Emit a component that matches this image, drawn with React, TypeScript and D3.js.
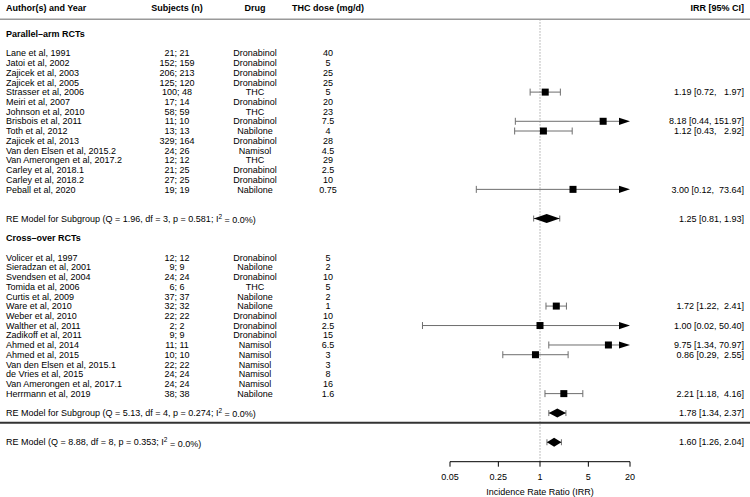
import React from "react";
import * as d3 from "d3";

// ---------- data ----------
const parallelStudies = [
  "Lane et al, 1991", "Jatoi et al, 2002", "Zajicek et al, 2003", "Zajicek et al, 2005",
  "Strasser et al, 2006", "Meiri et al, 2007", "Johnson et al, 2010", "Brisbois et al, 2011",
  "Toth et al, 2012", "Zajicek et al, 2013", "Van den Elsen et al, 2015.2",
  "Van Amerongen et al, 2017.2", "Carley et al, 2018.1", "Carley et al, 2018.2", "Peball et al, 2020",
];
const parallelSubjects = [
  "21; 21", "152; 159", "206; 213", "125; 120", "100; 48", "17; 14", "58; 59", "11; 10",
  "13; 13", "329; 164", "24; 26", "12; 12", "21; 25", "27; 25", "19; 19",
];
const parallelDrug = [
  "Dronabinol", "Dronabinol", "Dronabinol", "Dronabinol", "THC", "Dronabinol", "THC",
  "Dronabinol", "Nabilone", "Dronabinol", "Namisol", "THC", "Dronabinol", "Dronabinol", "Nabilone",
];
const parallelDose = ["40", "5", "25", "25", "5", "20", "23", "7.5", "4", "28", "4.5", "29", "2.5", "10", "0.75"];
const parallelIRR = [null, null, null, null, 1.19, null, null, 8.18, 1.12, null, null, null, null, null, 3.0];
const parallelLower = [null, null, null, null, 0.72, null, null, 0.44, 0.43, null, null, null, null, null, 0.12];
const parallelUpper = [null, null, null, null, 1.97, null, null, 151.97, 2.92, null, null, null, null, null, 73.64];

const crossStudies = [
  "Volicer et al, 1997", "Sieradzan et al, 2001", "Svendsen et al, 2004", "Tomida et al, 2006",
  "Curtis et al, 2009", "Ware et al, 2010", "Weber et al, 2010", "Walther et al, 2011",
  "Zadikoff et al, 2011", "Ahmed et al, 2014", "Ahmed et al, 2015", "Van den Elsen et al, 2015.1",
  "de Vries et al, 2015", "Van Amerongen et al, 2017.1", "Herrmann et al, 2019",
];
const crossSubjects = [
  "12; 12", "9; 9", "24; 24", "6; 6", "37; 37", "32; 32", "22; 22", "2; 2", "9; 9",
  "11; 11", "10; 10", "22; 22", "24; 24", "24; 24", "38; 38",
];
const crossDrug = [
  "Dronabinol", "Nabilone", "Dronabinol", "THC", "Nabilone", "Nabilone", "Dronabinol",
  "Dronabinol", "Dronabinol", "Namisol", "Namisol", "Namisol", "Namisol", "Namisol", "Nabilone",
];
const crossDose = ["5", "2", "10", "5", "2", "1", "10", "2.5", "15", "6.5", "3", "3", "8", "16", "1.6"];
const crossIRR = [null, null, null, null, null, 1.72, null, 1.0, null, 9.75, 0.86, null, null, null, 2.21];
const crossLower = [null, null, null, null, null, 1.22, null, 0.02, null, 1.34, 0.29, null, null, null, 1.18];
const crossUpper = [null, null, null, null, null, 2.41, null, 50.4, null, 70.97, 2.55, null, null, null, 4.16];

const summaryLabels = ["RE Model for Subgroup", "RE Model for Subgroup", "RE Model"];
const summaryQ = ["1.96", "5.13", "8.88"];
const summaryDf = ["3", "4", "8"];
const summaryP = ["0.581", "0.274", "0.353"];
const summaryI2 = ["0.0%", "0.0%", "0.0%"];
const summaryEst = [1.25, 1.78, 1.6];
const summaryLower = [0.81, 1.34, 1.26];
const summaryUpper = [1.93, 2.37, 2.04];

const axisTicks = [0.05, 0.25, 1, 5, 20];
const axisTickLabels = ["0.05", "0.25", "1", "5", "20"];
const headers = ["Author(s) and Year", "Subjects (n)", "Drug", "THC dose (mg/d)", "IRR [95% CI]"];
const groupTitles = ["Parallel\u2013arm RCTs", "Cross\u2013over RCTs"];
const axisTitle = "Incidence Rate Ratio (IRR)";

// ---------- layout ----------
const W = 750;
const H = 497;
const FONT = "'Liberation Sans', Arial, Helvetica, sans-serif";
const FS = 9;
const colX = { author: 6, subjects: 177, drug: 255, dose: 328, ci: 744 };
const x = d3.scaleLog().domain([0.05, 20]).range([450, 630]);
const y = d3.scaleLinear().domain([0, 42]).range([53.2, 461.7]);
const ALIM_HI = 20;

const f2 = (v: number) => v.toFixed(2);
const padL = (s: string, w: number) => " ".repeat(Math.max(0, w - s.length)) + s;

function ciLabels(est: (number | null)[], lo: (number | null)[], hi: (number | null)[]) {
  const e = est.filter((v) => v != null).map((v) => f2(v as number));
  const l = lo.filter((v) => v != null).map((v) => f2(v as number));
  const h = hi.filter((v) => v != null).map((v) => f2(v as number));
  const we = d3.max(e, (s) => s.length) || 0;
  const wl = d3.max(l, (s) => s.length) || 0;
  const wh = d3.max(h, (s) => s.length) || 0;
  return est.map((v, i) =>
    v == null
      ? null
      : `${padL(f2(v), we)} [${padL(f2(lo[i] as number), wl)}, ${padL(f2(hi[i] as number), wh)}]`
  );
}

const T = (props: any) => (
  <text
    fontFamily={FONT}
    fontSize={FS}
    fill="#000"
    dy="0.35em"
    xmlSpace="preserve"
    style={{ whiteSpace: "pre" }}
    {...props}
  />
);

function StudyMark({ est, lo, hi, yy }: { est: number; lo: number; hi: number; yy: number }) {
  const x0 = x(lo);
  const trunc = hi > ALIM_HI;
  const x1 = trunc ? x(ALIM_HI) : x(hi);
  const aw = 11;
  const ah = 3.6;
  const cap = 3.5;
  const s = 7;
  return (
    <g>
      <line x1={x0} x2={trunc ? x1 - aw + 1 : x1} y1={yy} y2={yy} stroke="#6e6e6e" strokeWidth={1} />
      <line x1={x0} x2={x0} y1={yy - cap} y2={yy + cap} stroke="#6e6e6e" strokeWidth={1} />
      {trunc ? (
        <polygon points={`${x1 - aw},${yy - ah} ${x1},${yy} ${x1 - aw},${yy + ah}`} fill="#000" />
      ) : (
        <line x1={x1} x2={x1} y1={yy - cap} y2={yy + cap} stroke="#6e6e6e" strokeWidth={1} />
      )}
      <rect x={x(est) - s / 2} y={yy - s / 2} width={s} height={s} fill="#000" />
    </g>
  );
}

function Diamond({ est, lo, hi, yy }: { est: number; lo: number; hi: number; yy: number }) {
  const hh = 4.5;
  const cap = 3;
  return (
    <g>
      <line x1={x(lo)} x2={x(hi)} y1={yy} y2={yy} stroke="#6e6e6e" strokeWidth={1} />
      <line x1={x(lo)} x2={x(lo)} y1={yy - cap} y2={yy + cap} stroke="#6e6e6e" strokeWidth={1} />
      <line x1={x(hi)} x2={x(hi)} y1={yy - cap} y2={yy + cap} stroke="#6e6e6e" strokeWidth={1} />
      <polygon
        points={`${x(lo)},${yy} ${x(est)},${yy - hh} ${x(hi)},${yy} ${x(est)},${yy + hh}`}
        fill="#000"
      />
    </g>
  );
}

function StudyRows({
  names, subjects, drugs, doses, est, lo, hi, start,
}: any) {
  const labels = ciLabels(est, lo, hi);
  return (
    <g>
      {names.map((n: string, i: number) => {
        const yy = y(start + i);
        return (
          <g key={n}>
            <T x={colX.author} y={yy}>{n}</T>
            <T x={colX.subjects} y={yy} textAnchor="middle">{subjects[i]}</T>
            <T x={colX.drug} y={yy} textAnchor="middle">{drugs[i]}</T>
            <T x={colX.dose} y={yy} textAnchor="middle">{doses[i]}</T>
            {est[i] != null && (
              <>
                <StudyMark est={est[i]} lo={lo[i]} hi={hi[i]} yy={yy} />
                <T x={colX.ci} y={yy} textAnchor="end">{labels[i]}</T>
              </>
            )}
          </g>
        );
      })}
    </g>
  );
}

function SummaryRow({ k, row }: { k: number; row: number }) {
  const yy = y(row);
  return (
    <g>
      <T x={colX.author} y={yy}>
        {`${summaryLabels[k]} (Q = ${summaryQ[k]}, df = ${summaryDf[k]}, p = ${summaryP[k]}; I`}
        <tspan fontSize={6.5} dy="-0.45em">2</tspan>
        <tspan dy="0.45em">{` = ${summaryI2[k]})`}</tspan>
      </T>
      <Diamond est={summaryEst[k]} lo={summaryLower[k]} hi={summaryUpper[k]} yy={yy} />
      <T x={colX.ci} y={yy} textAnchor="end">
        {`${f2(summaryEst[k])} [${f2(summaryLower[k])}, ${f2(summaryUpper[k])}]`}
      </T>
    </g>
  );
}

export default function App() {
  const headerY = y(-4.7);
  const topLine = y(-3.5);
  const axisY = y(42);
  return (
    <svg
      width={W}
      height={H}
      viewBox={`0 0 ${W} ${H}`}
      style={{ position: "absolute", left: 0, top: 0, background: "#fff" }}
    >
      <rect x={0} y={0} width={W} height={H} fill="#fff" />
      {/* reference line at 1 */}
      <line
        x1={x(1)} x2={x(1)} y1={topLine} y2={axisY}
        stroke="#aaaaaa" strokeWidth={1} strokeDasharray="1.5,1.5"
      />
      {/* headers */}
      <T x={colX.author} y={headerY} fontWeight="bold">{headers[0]}</T>
      <T x={colX.subjects} y={headerY} fontWeight="bold" textAnchor="middle">{headers[1]}</T>
      <T x={colX.drug} y={headerY} fontWeight="bold" textAnchor="middle">{headers[2]}</T>
      <T x={colX.dose} y={headerY} fontWeight="bold" textAnchor="middle">{headers[3]}</T>
      <T x={colX.ci} y={headerY} fontWeight="bold" textAnchor="end">{headers[4]}</T>
      <line x1={0} x2={W} y1={topLine} y2={topLine} stroke="#999" strokeWidth={1.5} />

      <T x={colX.author} y={y(-2)} fontWeight="bold">{groupTitles[0]}</T>
      <StudyRows
        names={parallelStudies} subjects={parallelSubjects} drugs={parallelDrug} doses={parallelDose}
        est={parallelIRR} lo={parallelLower} hi={parallelUpper} start={0}
      />
      <SummaryRow k={0} row={17} />

      <T x={colX.author} y={y(19)} fontWeight="bold">{groupTitles[1]}</T>
      <StudyRows
        names={crossStudies} subjects={crossSubjects} drugs={crossDrug} doses={crossDose}
        est={crossIRR} lo={crossLower} hi={crossUpper} start={21}
      />
      <SummaryRow k={1} row={37} />

      <line x1={0} x2={W} y1={y(38)} y2={y(38)} stroke="#333" strokeWidth={2} />
      <SummaryRow k={2} row={40} />

      {/* axis */}
      <line x1={x(0.05)} x2={x(20)} y1={axisY} y2={axisY} stroke="#000" strokeWidth={1} />
      {axisTicks.map((t, i) => (
        <g key={t}>
          <line x1={x(t)} x2={x(t)} y1={axisY} y2={axisY + 5} stroke="#000" strokeWidth={1} />
          <T x={x(t)} y={y(43.55)} textAnchor="middle">{axisTickLabels[i]}</T>
        </g>
      ))}
      <T x={x(1)} y={y(45.1)} textAnchor="middle">{axisTitle}</T>
    </svg>
  );
}
